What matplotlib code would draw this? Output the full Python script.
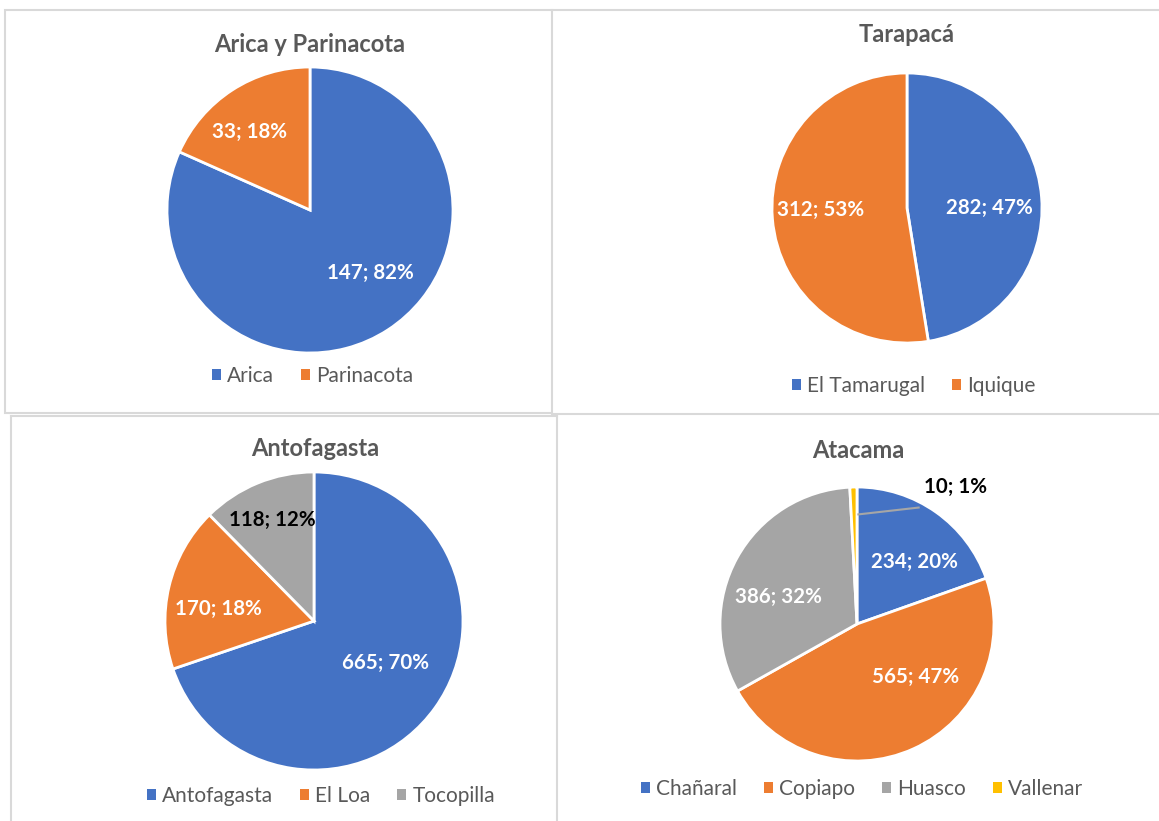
import matplotlib
matplotlib.use("Agg")
import matplotlib.pyplot as plt
from matplotlib.patches import Rectangle
from matplotlib.lines import Line2D

# ---------------- data ----------------
arica_labels = ["Arica", "Parinacota"]
arica_values = [147, 33]
arica_pcts = ["82%", "18%"]

tarapaca_labels = ["El Tamarugal", "Iquique"]
tarapaca_values = [282, 312]
tarapaca_pcts = ["47%", "53%"]

antofagasta_labels = ["Antofagasta", "El Loa", "Tocopilla"]
antofagasta_values = [665, 170, 118]
antofagasta_pcts = ["70%", "18%", "12%"]

atacama_labels = ["Chañaral", "Copiapo", "Huasco", "Vallenar"]
atacama_values = [234, 565, 386, 10]
atacama_pcts = ["20%", "47%", "32%", "1%"]

BLUE, ORANGE, GRAY, YELLOW = "#4472C4", "#ED7D31", "#A5A5A5", "#FFC000"
TXT = "#595959"
FONT = ["Lato", "DejaVu Sans"]

W, H = 1159, 821
fig = plt.figure(figsize=(W / 100, H / 100), dpi=100)
fig.patch.set_facecolor("white")


def fx(px):
    return px / W


def fy(py):
    return 1 - py / H


# panel borders
bc = "#D9D9D9"
fig.add_artist(Rectangle((fx(5), fy(413)), fx(552) - fx(5), fy(10) - fy(413),
                         transform=fig.transFigure, fill=False, ec=bc, lw=1.5))
for (x0, y0, x1, y1) in [(552, 10, 1159, 10), (552, 414, 1159, 414),
                         (11, 416, 11, 821), (11, 416, 557, 416), (557, 416, 557, 821)]:
    fig.add_artist(Line2D([fx(x0), fx(x1)], [fy(y0), fy(y1)], transform=fig.transFigure,
                          color=bc, lw=1.5))


def draw(cx, cy, r, values, labels, pcts, colors, title, title_xy, leg_xy,
         lab_xy, lab_colors, colspacing=1.3):
    k = 1.4
    ax = fig.add_axes([fx(cx - k * r), fy(cy + k * r), 2 * k * r / W, 2 * k * r / H])
    wedges, _ = ax.pie(values, colors=colors, startangle=90, counterclock=False,
                       radius=1.0, wedgeprops=dict(edgecolor="white", linewidth=2))
    ax.set_xlim(-k, k)
    ax.set_ylim(-k, k)
    ax.set_aspect("equal")
    ax.axis("off")
    for v, p, (dx, dy), c in zip(values, pcts, lab_xy, lab_colors):
        ax.text(dx, dy, f"{v}; {p}", ha="center", va="center", color=c,
                fontsize=14.8, fontweight="bold", family=FONT, clip_on=False)
    fig.text(fx(title_xy[0]), fy(title_xy[1]), title, ha="center", va="center",
             fontsize=17, fontweight="bold", color=TXT, family=FONT)
    leg = ax.legend(wedges, labels, loc="center", bbox_to_anchor=(fx(leg_xy[0]), fy(leg_xy[1])),
                    bbox_transform=fig.transFigure, ncol=len(labels), frameon=False,
                    handlelength=0.42, handleheight=0.42, handletextpad=0.3,
                    columnspacing=colspacing, prop=dict(family=FONT, size=15))
    for t in leg.get_texts():
        t.set_color(TXT)
    for h in leg.legend_handles:
        h.set_edgecolor("none")
    return ax


draw(310, 210, 143, arica_values, arica_labels, arica_pcts, [BLUE, ORANGE],
     "Arica y Parinacota", (310, 45), (313, 376),
     [(0.42, -0.44), (-0.42, 0.545)], ["white", "white"])

draw(907, 208, 135, tarapaca_values, tarapaca_labels, tarapaca_pcts, [BLUE, ORANGE],
     "Tarapacá", (907, 35), (914, 386),
     [(0.61, 0.0), (-0.64, -0.015)], ["white", "white"])

draw(314, 621, 149, antofagasta_values, antofagasta_labels, antofagasta_pcts,
     [BLUE, ORANGE, GRAY], "Antofagasta", (315, 448), (321, 796),
     [(0.48, -0.28), (-0.64, 0.08), (-0.28, 0.68)], ["white", "white", "black"])

ax4 = draw(857, 624, 137, atacama_values, atacama_labels, atacama_pcts,
           [BLUE, ORANGE, GRAY, YELLOW], "Atacama", (858, 450), (862, 789),
           [(0.42, 0.45), (0.43, -0.39), (-0.57, 0.20), (0.72, 1.0)],
           ["white", "white", "white", "black"])
ax4.plot([0.01, 0.45], [0.80, 0.85], color="#A6A6A6", lw=1.5, zorder=5)

fig.savefig("out.png", dpi=100)
